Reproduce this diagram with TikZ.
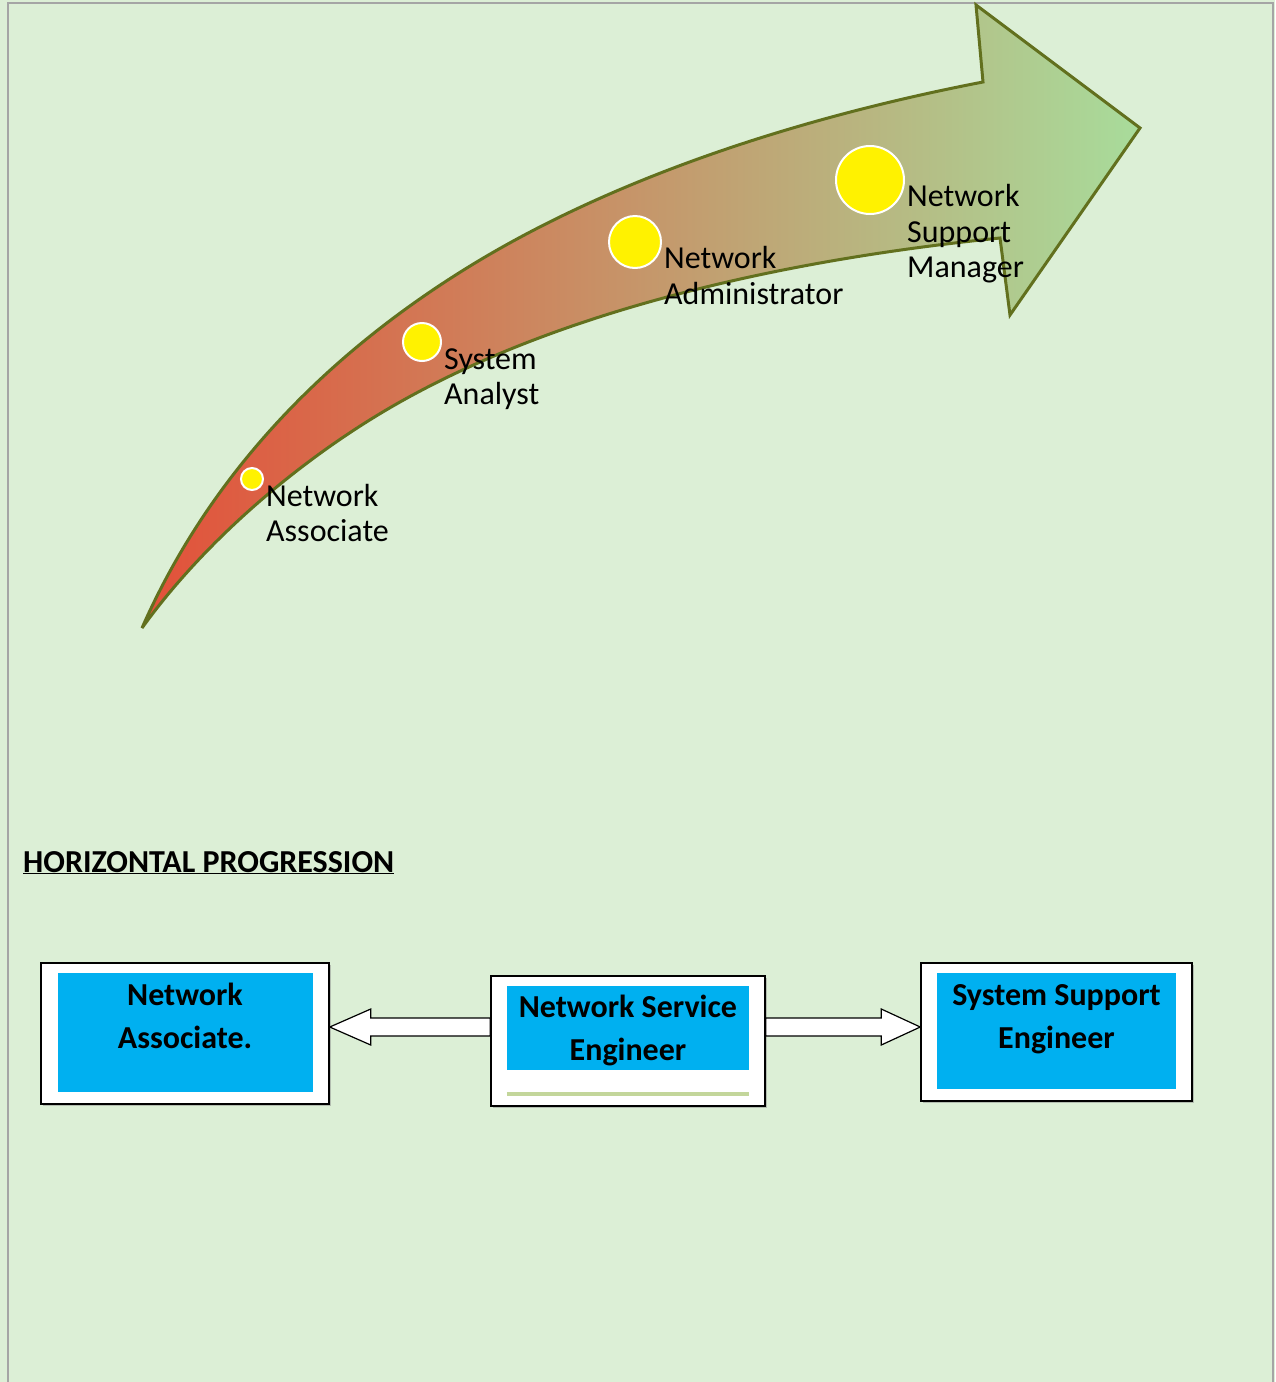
\documentclass[tikz,border=0pt]{standalone}
\usepackage{fontspec}
\setmainfont{Carlito}
\usepackage{tikz}
\usetikzlibrary{positioning,calc,shadows}
\definecolor{pagebg}{RGB}{220,239,214}
\definecolor{pageline}{RGB}{165,165,165}
\definecolor{arrowline}{RGB}{98,112,30}
\definecolor{startred}{RGB}{227,80,57}
\definecolor{midtan}{RGB}{203,145,104}
\definecolor{endgreen}{RGB}{168,220,155}
\definecolor{cellblue}{RGB}{0,176,240}
\definecolor{barGreen}{RGB}{195,214,155}

\begin{document}
\begin{tikzpicture}[x=1pt, y=-1pt,
  lbl/.style={font=\fontsize{32}{35.5}\selectfont, align=left, inner sep=0pt, anchor=base west},
  dot/.style={circle, fill=yellow, draw=white, line width=2pt, inner sep=0pt},
  frame/.style={draw=black, fill=white, line width=1.5pt, inner sep=0pt,
    drop shadow={shadow xshift=1.5pt, shadow yshift=-1.5pt, fill=black!45}},
  cell/.style={fill=cellblue, inner sep=0pt},
  celltext/.style={font=\fontsize{32}{43}\selectfont\bfseries, align=center, inner sep=0pt, anchor=base},
  blockarrow/.style={draw=black, fill=white, line width=1.2pt, line join=miter},
  arrowbody/.style={draw=arrowline, line width=3pt, line join=miter, miter limit=3,
    left color=startred, middle color=midtan, right color=endgreen}]
\useasboundingbox (0,0) rectangle (1275,1382);
\fill[pagebg] (0,0) rectangle (1275,1382);
\draw[pageline, line width=2pt] (8,1382) -- (8,3) -- (1273,3) -- (1273,1382);

% career arrow
\draw[arrowbody] (142,628)
  .. controls (216,460) and (343,342) .. (480,260)
  .. controls (626,173) and (807,116) .. (983,82)
  -- (976,5) -- (1140,128) -- (1010,315) -- (1000,238)
  .. controls (802,258) and (574,304) .. (400,402)
  .. controls (304,456) and (206,539) .. cycle;

\node[dot, minimum size=22] (na-dot)  at (252,479) {};
\node[dot, minimum size=38] (sa-dot)  at (422,342) {};
\node[dot, minimum size=52] (nad-dot) at (635,242) {};
\node[dot, minimum size=68] (nsm-dot) at (870,180) {};
\node[lbl, xshift=2pt, yshift=-62.5pt] (na-lbl)  at (na-dot.east)  {Network\\Associate};
\node[lbl, xshift=2pt, yshift=-62.5pt] (sa-lbl)  at (sa-dot.east)  {System\\Analyst};
\node[lbl, xshift=2pt, yshift=-62pt]   (nad-lbl) at (nad-dot.east) {Network\\Administrator};
\node[lbl, xshift=2pt, yshift=-97.5pt] (nsm-lbl) at (nsm-dot.east) {Network\\Support\\Manager};

% horizontal progression
\node[anchor=base west, inner sep=0pt, font=\fontsize{32}{38}\selectfont\bfseries]
  (title) at (23,872) {\underline{HORIZONTAL PROGRESSION}};

\node[frame, minimum width=288, minimum height=141] (na)  at (185,1033.5) {};
\node[frame, minimum width=274, minimum height=130] (nse) at (628,1041)   {};
\node[frame, minimum width=271, minimum height=138] (ssu) at (1056.5,1032) {};
\node[cell, minimum width=255, minimum height=119, below=11pt of na.north]  (na-cell)  {};
\node[cell, minimum width=242, minimum height=84,  below=11pt of nse.north] (nse-cell) {};
\node[cell, minimum width=239, minimum height=116, below=11pt of ssu.north] (ssu-cell) {};
\node[celltext, yshift=-75pt]   (na-text)  at (na-cell.north)  {Network\\Associate.};
\node[celltext, yshift=-74.5pt] (nse-text) at (nse-cell.north) {Network Service\\Engineer};
\node[celltext, yshift=-75pt]   (ssu-text) at (ssu-cell.north) {System Support\\Engineer};
\draw[barGreen, line width=4pt] ([yshift=-23pt]nse-cell.south west) -- ([yshift=-23pt]nse-cell.south east);

\coordinate (lt) at ([yshift=6.5pt]na.east);
\coordinate (lb) at ([yshift=14pt]nse.west);
\coordinate (rt) at ([yshift=5pt]ssu.west);
\coordinate (rb) at ([yshift=14pt]nse.east);
\draw[blockarrow] (lt) -- ++(41,-18) -- ++(0,9) -- ($(lb)+(0,-9)$) -- ($(lb)+(0,9)$)
  -- ($(lt)+(41,9)$) -- ++(0,9) -- cycle;
\draw[blockarrow] (rt) -- ++(-39,-18) -- ++(0,9) -- ($(rb)+(0,-9)$) -- ($(rb)+(0,9)$)
  -- ($(rt)+(-39,9)$) -- ++(0,9) -- cycle;
\end{tikzpicture}
\end{document}
